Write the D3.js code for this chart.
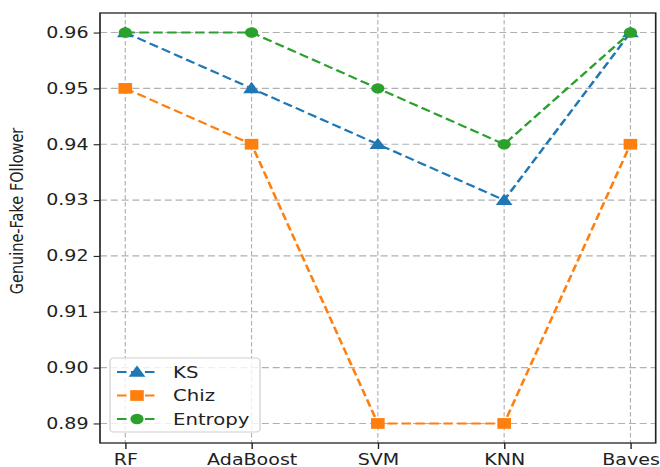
<!DOCTYPE html>
<html><head><meta charset="utf-8">
<script src="https://cdn.jsdelivr.net/npm/d3@7"></script>
<style>body{margin:0;background:#fff}svg{display:block}</style>
</head><body>
<script>
const categories = ["RF","AdaBoost","SVM","KNN","Baves"];
const ksValues = [0.96,0.95,0.94,0.93,0.96];
const chizValues = [0.95,0.94,0.89,0.89,0.94];
const entropyValues = [0.96,0.96,0.95,0.94,0.96];
const yTicks = [0.89,0.90,0.91,0.92,0.93,0.94,0.95,0.96];
const seriesNames = ["KS","Chiz","Entropy"];

const SX = 1.27;
const W = 660, H = 467, VW = W / SX;
const pL = 100 / SX, pR = 655.7 / SX, pT = 13, pB = 443;

const svg = d3.select("body").append("svg")
  .attr("width", W).attr("height", H)
  .attr("viewBox", `0 0 ${VW} ${H}`)
  .attr("preserveAspectRatio", "none");

const x = d3.scalePoint().domain(categories).range([pL, pR]).padding(0.2);
const y = d3.scaleLinear().domain([0.8865, 0.9635]).range([pB, pT]);

const font = "DejaVu Sans, sans-serif";
// grid
const g = svg.append("g");
g.selectAll(".vg").data(categories).join("line")
  .attr("x1", d => x(d)).attr("x2", d => x(d)).attr("y1", pT).attr("y2", pB)
  .attr("stroke", "#b0b0b0").attr("stroke-width", 0.9).attr("stroke-dasharray", "4.5,2.5");
g.selectAll(".hg").data(yTicks).join("line")
  .attr("x1", pL).attr("x2", pR).attr("y1", d => y(d)).attr("y2", d => y(d))
  .attr("stroke", "#b0b0b0").attr("stroke-width", 1.1).attr("stroke-dasharray", "5.5,3");

// axes
const xAxis = svg.append("g").attr("transform", `translate(0,${pB})`)
  .call(d3.axisBottom(x).tickSize(6).tickPadding(5));
const yAxis = svg.append("g").attr("transform", `translate(${pL},0)`)
  .call(d3.axisLeft(y).tickValues(yTicks).tickFormat(d3.format(".2f")).tickSize(5).tickPadding(4));
[xAxis, yAxis].forEach(a => {
  a.select(".domain").remove();
  a.selectAll("line").attr("stroke", "#222").attr("stroke-width", 1.1);
  a.selectAll("text").attr("font-family", font).attr("font-size", 15).attr("fill", "#222");
});
xAxis.selectAll("text").attr("dy", "0.71em");
svg.append("rect").attr("x", pL).attr("y", pT).attr("width", pR - pL).attr("height", pB - pT)
  .attr("fill", "none").attr("stroke", "#222").attr("stroke-width", 1.3);

svg.append("text").attr("transform", `translate(${17/SX},211) rotate(-90)`)
  .attr("text-anchor", "middle").attr("dy", "0.35em")
  .attr("font-family", font).attr("font-size", 14.5).attr("fill", "#222")
  .text("Genuine-Fake FOllower");

const series = [
  {name: seriesNames[0], values: ksValues, color: "#1f77b4", marker: "triangle"},
  {name: seriesNames[1], values: chizValues, color: "#ff7f0e", marker: "square"},
  {name: seriesNames[2], values: entropyValues, color: "#2ca02c", marker: "circle"}
];
const sym = {triangle: d3.symbolTriangle, square: d3.symbolSquare, circle: d3.symbolCircle};
const size = {triangle: 75, square: 115, circle: 85};
const line = d3.line().x((d, i) => x(categories[i])).y(d => y(d));

function drawMarker(sel, s, cx, cy) {
  sel.append("path").attr("d", d3.symbol(sym[s.marker], size[s.marker])())
    .attr("transform", `translate(${cx},${cy + (s.marker === "triangle" ? 1 : 0)})`)
    .attr("fill", s.color);
}

series.forEach(s => {
  svg.append("path").datum(s.values).attr("d", line)
    .attr("fill", "none").attr("stroke", s.color).attr("stroke-width", 2.1)
    .attr("stroke-dasharray", "7.5,3.5");
  s.values.forEach((v, i) => drawMarker(svg, s, x(categories[i]), y(v)));
});

// legend
const lx = 110 / SX, ly = 358, lw = 150 / SX, lh = 74;
const leg = svg.append("g");
leg.append("rect").attr("x", lx).attr("y", ly).attr("width", lw).attr("height", lh)
  .attr("rx", 3).attr("fill", "#fff").attr("fill-opacity", 0.8)
  .attr("stroke", "#d0d0d0").attr("stroke-width", 1);
series.forEach((s, i) => {
  const yy = 372 + i * 23.5;
  leg.append("line").attr("x1", 117 / SX).attr("x2", 157 / SX).attr("y1", yy).attr("y2", yy)
    .attr("stroke", s.color).attr("stroke-width", 2.1).attr("stroke-dasharray", "7.5,3.5");
  drawMarker(leg, s, 137 / SX, yy);
  leg.append("text").attr("x", 173 / SX).attr("y", yy).attr("dy", "0.36em")
    .attr("font-family", font).attr("font-size", 15.5).attr("fill", "#222").text(s.name);
});
</script>
</body></html>
